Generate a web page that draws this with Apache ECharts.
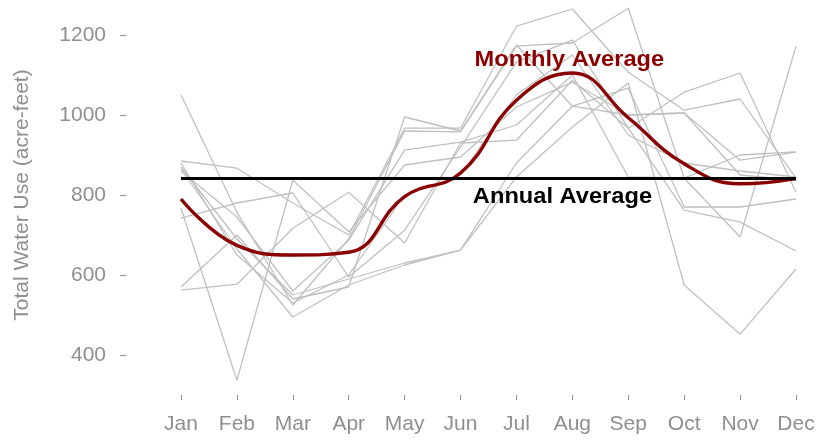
<!DOCTYPE html>
<html>
<head>
<meta charset="utf-8">
<script src="https://cdn.jsdelivr.net/npm/echarts@6/dist/echarts.min.js"></script>
<style>
  html, body { margin: 0; padding: 0; background: #fff; }
  #chart { width: 817px; height: 440px; }
</style>
</head>
<body>
<div id="chart"></div>
<script>
const months = ['Jan', 'Feb', 'Mar', 'Apr', 'May', 'Jun', 'Jul', 'Aug', 'Sep', 'Oct', 'Nov', 'Dec']

// one gray line per year (acre-feet)
const year1 = [767, 337, 837, 708, 875, 895, 1020, 1082, 1000, 1005, 887, 907]
const year2 = [1050, 757, 525, 690, 960, 958, 1172, 1180, 1267, 842, 695, 1172]
const year3 = [562, 577, 717, 807, 680, 930, 937, 1087, 967, 1057, 1105, 807]
const year4 = [885, 867, 780, 700, 967, 967, 1222, 1265, 1107, 1012, 1040, 842]
const year5 = [870, 690, 550, 590, 630, 662, 845, 970, 1080, 575, 452, 615]
const year6 = [865, 665, 495, 575, 625, 662, 880, 1022, 1067, 770, 770, 790]
const year7 = [742, 780, 805, 595, 712, 920, 1132, 1187, 967, 762, 732, 660]
const year8 = [860, 745, 560, 687, 912, 932, 975, 1100, 845, 842, 900, 908]
const year9 = [570, 700, 540, 570, 995, 960, 1175, 1022, 1000, 1005, 850, 837]
const year10 = [880, 650, 530, 600, 800, 850, 1050, 1150, 950, 880, 860, 845]

const monthlyAverage = [790, 674, 650, 657, 796, 855, 1037, 1105, 993, 878, 828, 841]
const annualAverage = 843

const yTicks = [400, 600, 800, 1000, 1200]

const years = [year1, year2, year3, year4, year5, year6, year7, year8, year9, year10]

const chart = echarts.init(document.getElementById('chart'))

const labelColor = '#8f8f8f'
const font = '"Liberation Sans", Arial, sans-serif'

const graySeries = years.map((d, i) => ({
  name: 'year' + (i + 1),
  type: 'line',
  data: d,
  symbol: 'none',
  clip: false,
  silent: true,
  z: 2,
  lineStyle: { color: '#c0c0c0', width: 1.3 }
}))

const option = {
  animation: false,
  grid: { left: 181, right: 21, top: 35, bottom: 85, containLabel: false, outerBoundsMode: 'none' },
  xAxis: {
    type: 'category',
    data: months,
    boundaryGap: false,
    offset: 40,
    axisLine: { show: false },
    axisTick: { show: true, length: 5, interval: 0, lineStyle: { color: labelColor } },
    axisLabel: { color: labelColor, fontSize: 21, fontFamily: font, margin: 19, interval: 0 },
    splitLine: { show: false }
  },
  yAxis: {
    type: 'value',
    min: yTicks[0],
    max: yTicks[yTicks.length - 1],
    interval: 200,
    offset: 55,
    name: 'Total Water Use (acre-feet)',
    nameLocation: 'middle',
    nameGap: 93,
    nameTextStyle: { color: labelColor, fontSize: 21, fontFamily: font },
    axisLine: { show: false },
    axisTick: { show: true, length: 6, lineStyle: { color: labelColor } },
    axisLabel: { color: labelColor, fontSize: 21, fontFamily: font, margin: 20, formatter: v => String(v) },
    splitLine: { show: false }
  },
  series: [
    ...graySeries,
    {
      name: 'Annual Average',
      type: 'line',
      data: [],
      z: 3,
      markLine: {
        silent: true,
        symbol: 'none',
        label: { show: false },
        lineStyle: { color: '#000', width: 3, type: 'solid' },
        data: [{ yAxis: annualAverage }]
      }
    },
    {
      name: 'Monthly Average',
      type: 'line',
      data: monthlyAverage,
      smooth: 0.45,
      symbol: 'none',
      clip: false,
      z: 4,
      lineStyle: { color: '#8b0000', width: 3.4 }
    }
  ]
}

chart.setOption(option)

// text annotations anchored to data coordinates
const monthlyPos = chart.convertToPixel({ gridIndex: 0 }, ['Aug', 1137])
const annualPos = chart.convertToPixel({ gridIndex: 0 }, ['Jul', 795])

chart.setOption({
  graphic: [
    {
      type: 'text',
      x: monthlyPos[0] - 3,
      y: monthlyPos[1],
      scaleX: 1.1,
      style: {
        text: 'Monthly Average',
        fill: '#8b0000',
        font: 'bold 21.5px ' + font,
        align: 'center',
        verticalAlign: 'middle'
      },
      z: 10
    },
    {
      type: 'text',
      x: annualPos[0] + 46,
      y: annualPos[1],
      scaleX: 1.1,
      style: {
        text: 'Annual Average',
        fill: '#000',
        font: 'bold 21.5px ' + font,
        align: 'center',
        verticalAlign: 'middle'
      },
      z: 10
    }
  ]
})
</script>
</body>
</html>
